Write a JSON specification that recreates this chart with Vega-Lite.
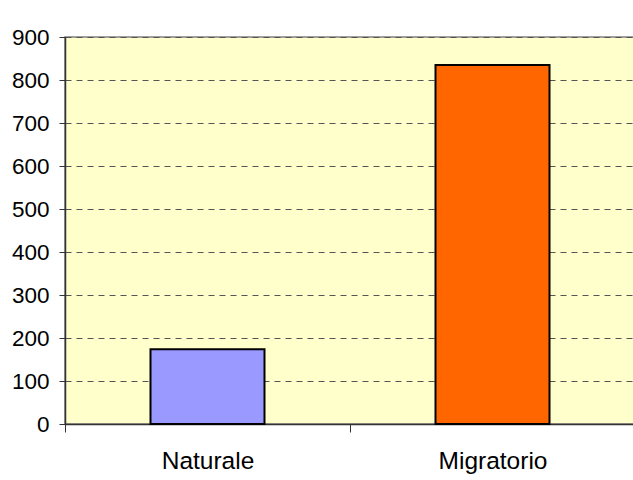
{
  "$schema": "https://vega.github.io/schema/vega-lite/v6.json",
  "width": 570,
  "height": 387,
  "autosize": {"type": "none"},
  "padding": {"left": 65, "top": 37, "right": 0, "bottom": 60},
  "background": "white",
  "config": {
    "view": {"fill": "#FFFFCC", "stroke": "#808080", "strokeWidth": 1.5},
    "font": "Liberation Sans"
  },
  "data": {
    "values": [
      {"categoria": "Naturale", "valore": 174},
      {"categoria": "Migratorio", "valore": 835}
    ]
  },
  "mark": {"type": "bar", "width": {"band": 0.4}, "stroke": "black", "strokeWidth": 2},
  "encoding": {
    "x": {
      "field": "categoria",
      "type": "nominal",
      "sort": ["Naturale", "Migratorio"],
      "scale": {"paddingInner": 0, "paddingOuter": 0},
      "axis": {
        "title": null,
        "labelAngle": 0,
        "labelFontSize": 24.5,
        "labelColor": "black",
        "labelPadding": 17,
        "tickBand": "extent",
        "tickSize": 8,
        "tickColor": "#333333",
        "domainColor": "#333333",
        "domainWidth": 1.5,
        "grid": false
      }
    },
    "y": {
      "field": "valore",
      "type": "quantitative",
      "scale": {"domain": [0, 900], "nice": false},
      "axis": {
        "title": null,
        "values": [0, 100, 200, 300, 400, 500, 600, 700, 800, 900],
        "labelFontSize": 22.5,
        "labelColor": "black",
        "labelPadding": 10,
        "tickSize": 6,
        "tickColor": "#333333",
        "domainColor": "#333333",
        "domainWidth": 1.5,
        "grid": true,
        "gridColor": "#555555",
        "gridDash": [6, 5],
        "gridWidth": 1.2
      }
    },
    "fill": {
      "field": "categoria",
      "type": "nominal",
      "scale": {"domain": ["Naturale", "Migratorio"], "range": ["#9999FF", "#FF6600"]},
      "legend": null
    }
  }
}
